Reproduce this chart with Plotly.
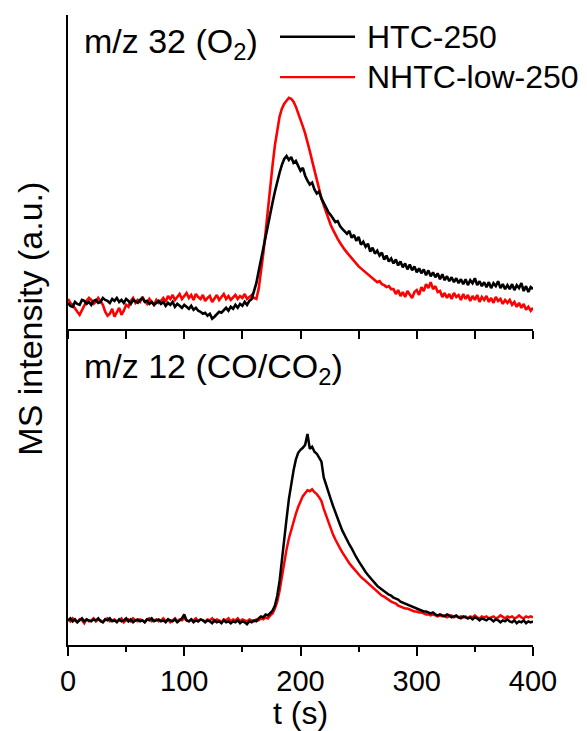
import numpy as np
import plotly.graph_objects as go

# time axis, 2 s sampling
t = np.arange(0, 401, 2)

# m/z 32 (O2) signal, a.u.
o2_htc = [
    26, 23, 22, 27, 25, 24, 29, 28, 25, 27,
    24, 28, 29, 26, 27, 31, 29, 28, 26, 30,
    28, 31, 27, 29, 26, 30, 28, 25, 29, 27,
    26, 29, 31, 27, 28, 25, 27, 24, 26, 28,
    25, 27, 23, 26, 24, 27, 22, 25, 23, 21,
    24, 22, 20, 23, 19, 21, 18, 17, 15, 16,
    13, 15, 10, 12, 14, 17, 16, 19, 21, 18,
    22, 20, 24, 21, 25, 23, 27, 24, 28, 30,
    38, 46, 58, 70, 84, 96, 106, 117, 128, 139,
    150, 158, 166, 172, 175, 171, 174, 168, 170, 165,
    160, 163, 155, 150, 146, 148, 141, 137, 139, 132,
    127, 123, 118, 115, 111, 108, 109, 104, 101, 99,
    96, 99, 92, 95, 89, 93, 85, 88, 83, 86,
    78, 82, 76, 79, 74, 77, 70, 74, 68, 71,
    66, 70, 64, 68, 62, 66, 60, 65, 59, 63,
    57, 61, 56, 60, 54, 59, 53, 57, 52, 56,
    50, 55, 49, 53, 48, 52, 47, 51, 46, 50,
    45, 50, 44, 49, 46, 51, 44, 48, 43, 47,
    42, 47, 41, 46, 43, 48, 41, 45, 40, 44,
    40, 45, 39, 44, 41, 46, 38, 43, 37, 42,
    40,
]
o2_nhtc = [
    30, 26, 24, 20, 17, 14, 19, 23, 28, 31,
    29, 25, 27, 31, 28, 24, 17, 13, 15, 20,
    12, 16, 21, 14, 18, 24, 22, 28, 31, 26,
    29, 27, 32, 28, 25, 30, 27, 24, 29, 26,
    28, 31, 27, 33, 30, 34, 29, 32, 35, 30,
    33, 36, 31, 34, 29, 35, 32, 30, 34, 28,
    31, 33, 27, 30, 34, 29, 32, 35, 30, 33,
    29, 32, 34, 30, 33, 31, 35, 30, 32, 34,
    31, 30, 40, 56, 76, 98, 122, 145, 166, 186,
    203, 215, 223, 228, 231, 234, 233, 230, 225, 219,
    213, 205, 198, 190, 180, 170, 160, 150, 141, 132,
    125, 118, 111, 105, 100, 95, 91, 87, 83, 80,
    77, 74, 71, 68, 66, 63, 61, 59, 57, 55,
    53, 51, 49, 47, 48, 45, 44, 42, 43, 40,
    40, 35, 39, 33, 37, 32, 38, 34, 31, 37,
    39, 34, 42, 38, 45, 41, 47, 40, 43, 37,
    38, 32, 36, 31, 35, 30, 36, 32, 34, 29,
    35, 30, 34, 28, 33, 29, 34, 27, 32, 29,
    33, 27, 31, 26, 32, 28, 30, 25, 29, 26,
    29, 24, 27, 22, 26, 21, 25, 19, 22, 18,
    21,
]

# m/z 12 (CO/CO2) signal, a.u.
co_htc = [
    25, 27, 24, 26, 23, 25, 27, 24, 26, 25,
    24, 26, 25, 27, 24, 23, 26, 25, 27, 24,
    25, 23, 26, 24, 25, 27, 24, 26, 23, 25,
    26, 24, 25, 23, 26, 25, 27, 24, 25, 26,
    24, 25, 23, 26, 25, 24, 26, 23, 25, 27,
    31, 25, 24, 26, 23, 25, 24, 26, 25, 23,
    25, 24, 22, 25, 23, 24, 22, 25, 23, 24,
    22, 24, 23, 25, 22, 24, 23, 21, 24, 23,
    25, 24, 27, 29, 28, 31, 30, 33, 35, 40,
    50, 65, 88, 110, 128, 148, 163, 177, 188, 195,
    198, 200, 203, 214, 199, 201, 196, 194, 190, 186,
    170, 162, 154, 148, 141, 134, 128, 122, 116, 111,
    106, 102, 98, 93, 89, 85, 81, 78, 74, 71,
    68, 65, 63, 60, 58, 56, 54, 53, 51, 50,
    48, 47, 46, 44, 43, 42, 41, 40, 39, 38,
    37, 36, 35, 34, 34, 33, 32, 33, 31, 30,
    31, 30, 29, 31, 30, 28, 29, 30, 28, 27,
    29, 28, 27, 28, 26, 28, 27, 25, 27, 26,
    25, 27, 26, 24, 26, 25, 23, 25, 24, 26,
    24, 23, 25, 22, 24, 23, 25, 22, 24, 23,
    24,
]
co_nhtc = [
    26, 24, 27, 25, 23, 26, 25, 22, 26, 24,
    25, 27, 24, 26, 25, 23, 26, 27, 24, 25,
    26, 24, 25, 27, 23, 25, 26, 24, 27, 25,
    24, 26, 25, 23, 26, 27, 24, 25, 26, 24,
    25, 27, 24, 26, 23, 25, 27, 24, 26, 25,
    27, 25, 24, 26, 25, 27, 24, 26, 25, 24,
    26, 25, 27, 24, 26, 25, 23, 26, 25, 27,
    24, 26, 25, 27, 24, 26, 25, 24, 26, 25,
    24, 26, 25, 27, 26, 28, 27, 30, 32, 37,
    44, 55, 70, 84, 97, 108, 117, 125, 133, 140,
    146, 151, 154, 157, 156, 158, 155, 153, 150, 146,
    138, 131, 124, 118, 112, 107, 102, 98, 94, 90,
    86, 83, 80, 77, 74, 71, 69, 67, 65, 62,
    60, 58, 56, 54, 52, 50, 49, 47, 46, 44,
    43, 42, 40, 39, 38, 37, 37, 36, 35, 34,
    34, 33, 33, 32, 31, 31, 30, 31, 30, 29,
    30, 29, 30, 28, 29, 30, 28, 29, 28, 29,
    28, 29, 27, 29, 28, 30, 28, 27, 29, 28,
    29, 27, 28, 29, 27, 28, 30, 28, 27, 29,
    28, 29, 27, 28, 30, 28, 27, 29, 28, 29,
    28,
]

series_names = ["HTC-250", "NHTC-low-250"]
series_colors = ["#000000", "#ff0000"]
x_ticks = [0, 100, 200, 300, 400]

FONT = "Liberation Sans, Arial, sans-serif"
W, H = 587, 731
ML, MR, MT, MB = 68, 54, 15, 77
plot_h = H - MT - MB
split = (654 - 333) / plot_h  # boundary between the two panels

fig = go.Figure()

# red first so the black trace sits on top
for name, color, top, bottom in [
    (series_names[1], series_colors[1], o2_nhtc, co_nhtc),
    (series_names[0], series_colors[0], o2_htc, co_htc),
]:
    fig.add_trace(go.Scatter(x=t, y=top, mode="lines", name=name,
                             line=dict(color=color, width=2.6),
                             xaxis="x2", yaxis="y2", showlegend=False))
    fig.add_trace(go.Scatter(x=t, y=bottom, mode="lines", name=name,
                             line=dict(color=color, width=2.5),
                             xaxis="x", yaxis="y", showlegend=False))

axis_common = dict(showline=True, linecolor="black", linewidth=2,
                   showgrid=False, zeroline=False)

fig.update_layout(
    width=W, height=H,
    margin=dict(l=ML, r=MR, t=MT, b=MB),
    plot_bgcolor="white", paper_bgcolor="white",
    font=dict(family=FONT, color="black"),
    xaxis=dict(**axis_common, range=[0, 400], anchor="y",
               tickmode="array", tickvals=x_ticks,
               ticktext=[str(v) for v in x_ticks],
               ticks="outside", ticklen=9, tickwidth=2, tickcolor="black",
               minor=dict(dtick=50, ticks="outside", ticklen=5,
                          tickwidth=2, tickcolor="black"),
               tickfont=dict(size=29, family=FONT),
               title=dict(text="t (s)", font=dict(size=32, family=FONT),
                          standoff=0)),
    yaxis=dict(**axis_common, domain=[0, split], range=[0, 321],
               showticklabels=False, ticks=""),
    xaxis2=dict(**axis_common, range=[0, 400], anchor="y2",
                dtick=50, ticks="outside", ticklen=8, tickwidth=2,
                tickcolor="black", showticklabels=False),
    yaxis2=dict(**axis_common, domain=[split, 1], range=[0, 318],
                showticklabels=False, ticks=""),
)

def py(pix):
    """paper y for a pixel row"""
    return (H - MB - pix) / plot_h

def px(pix):
    return (pix - ML) / (W - ML - MR)

annotations = [
    dict(text="MS intensity (a.u.)", xref="paper", yref="paper",
         x=0, xshift=-38, y=py(323), textangle=-90, showarrow=False,
         xanchor="center", yanchor="middle", font=dict(size=34)),
    dict(text="m/z 32 (O<sub>2</sub>)", xref="paper", yref="paper",
         x=px(82), y=py(44), showarrow=False, xanchor="left",
         yanchor="middle", font=dict(size=34)),
    dict(text="m/z 12 (CO/CO<sub>2</sub>)", xref="paper", yref="paper",
         x=px(82), y=py(374), showarrow=False, xanchor="left",
         yanchor="middle", font=dict(size=34)),
]

# legend keys
shapes = []
for i, (name, color) in enumerate(zip(series_names, series_colors)):
    row = 37 + i * 41
    shapes.append(dict(type="line", xref="paper", yref="paper",
                       x0=px(280), x1=px(355), y0=py(row), y1=py(row),
                       line=dict(color=color, width=2.4)))
    annotations.append(dict(text=name, xref="paper", yref="paper",
                            x=px(365), y=py(row), showarrow=False,
                            xanchor="left", yanchor="middle",
                            font=dict(size=32)))

fig.update_layout(annotations=annotations, shapes=shapes)

fig.write_html("out.html")
